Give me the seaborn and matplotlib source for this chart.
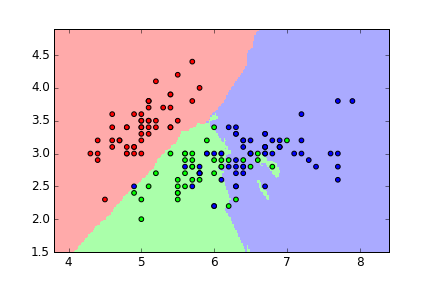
import numpy as np
import pandas as pd
import matplotlib
matplotlib.use("Agg")
import matplotlib.pyplot as plt
from matplotlib.colors import ListedColormap
import seaborn as sns

# Iris sepal length / sepal width, classes 0=setosa, 1=versicolor, 2=virginica
sepal_length = [
    5.1, 4.9, 4.7, 4.6, 5.0, 5.4, 4.6, 5.0, 4.4, 4.9, 5.4, 4.8, 4.8, 4.3, 5.8, 5.7, 5.4, 5.1, 5.7, 5.1,
    5.4, 5.1, 4.6, 5.1, 4.8, 5.0, 5.0, 5.2, 5.2, 4.7, 4.8, 5.4, 5.2, 5.5, 4.9, 5.0, 5.5, 4.9, 4.4, 5.1,
    5.0, 4.5, 4.4, 5.0, 5.1, 4.8, 5.1, 4.6, 5.3, 5.0,
    7.0, 6.4, 6.9, 5.5, 6.5, 5.7, 6.3, 4.9, 6.6, 5.2, 5.0, 5.9, 6.0, 6.1, 5.6, 6.7, 5.6, 5.8, 6.2, 5.6,
    5.9, 6.1, 6.3, 6.1, 6.4, 6.6, 6.8, 6.7, 6.0, 5.7, 5.5, 5.5, 5.8, 6.0, 5.4, 6.0, 6.7, 6.3, 5.6, 5.5,
    5.5, 6.1, 5.8, 5.0, 5.6, 5.7, 5.7, 6.2, 5.1, 5.7,
    6.3, 5.8, 7.1, 6.3, 6.5, 7.6, 4.9, 7.3, 6.7, 7.2, 6.5, 6.4, 6.8, 5.7, 5.8, 6.4, 6.5, 7.7, 7.7, 6.0,
    6.9, 5.6, 7.7, 6.3, 6.7, 7.2, 6.2, 6.1, 6.4, 7.2, 7.4, 7.9, 6.4, 6.3, 6.1, 7.7, 6.3, 6.4, 6.0, 6.9,
    6.7, 6.9, 5.8, 6.8, 6.7, 6.7, 6.3, 6.5, 6.2, 5.9,
]
sepal_width = [
    3.5, 3.0, 3.2, 3.1, 3.6, 3.9, 3.4, 3.4, 2.9, 3.1, 3.7, 3.4, 3.0, 3.0, 4.0, 4.4, 3.9, 3.5, 3.8, 3.8,
    3.4, 3.7, 3.6, 3.3, 3.4, 3.0, 3.4, 3.5, 3.4, 3.2, 3.1, 3.4, 4.1, 4.2, 3.1, 3.2, 3.5, 3.6, 3.0, 3.4,
    3.5, 2.3, 3.2, 3.5, 3.8, 3.0, 3.8, 3.2, 3.7, 3.3,
    3.2, 3.2, 3.1, 2.3, 2.8, 2.8, 3.3, 2.4, 2.9, 2.7, 2.0, 3.0, 2.2, 2.9, 2.9, 3.1, 3.0, 2.7, 2.2, 2.5,
    3.2, 2.8, 2.5, 2.8, 2.9, 3.0, 2.8, 3.0, 2.9, 2.6, 2.4, 2.4, 2.7, 2.7, 3.0, 3.4, 3.1, 2.3, 3.0, 2.5,
    2.6, 3.0, 2.6, 2.3, 2.7, 3.0, 2.9, 2.9, 2.5, 2.8,
    3.3, 2.7, 3.0, 2.9, 3.0, 3.0, 2.5, 2.9, 2.5, 3.6, 3.2, 2.7, 3.0, 2.5, 2.8, 3.2, 3.0, 3.8, 2.6, 2.2,
    3.2, 2.8, 2.8, 2.7, 3.3, 3.2, 2.8, 3.0, 2.8, 3.0, 2.8, 3.8, 2.8, 2.8, 2.6, 3.0, 3.4, 3.1, 3.0, 3.1,
    3.1, 3.1, 2.7, 3.2, 3.3, 3.0, 2.5, 3.0, 3.4, 3.0,
]
species = [0] * 50 + [1] * 50 + [2] * 50

n_neighbors = 15
light_colors = ['#FFAAAA', '#AAFFAA', '#AAAAFF']
bold_colors = ['#FF0000', '#00FF00', '#0000FF']

X = np.column_stack([sepal_length, sepal_width])
y = np.array(species)

h = 0.02
x_min, x_max = X[:, 0].min() - 0.5, X[:, 0].max() + 0.5
y_min, y_max = X[:, 1].min() - 0.5, X[:, 1].max() + 0.5
xx, yy = np.meshgrid(np.arange(x_min, x_max, h), np.arange(y_min, y_max, h))
grid = np.column_stack([xx.ravel(), yy.ravel()])

# k-nearest-neighbours (uniform weights) classification of the mesh
d2 = ((grid[:, None, :] - X[None, :, :]) ** 2).sum(axis=2)
idx = np.argsort(d2, axis=1, kind='stable')[:, :n_neighbors]
votes = np.zeros((grid.shape[0], 3), dtype=int)
for c in range(3):
    votes[:, c] = (y[idx] == c).sum(axis=1)
Z = votes.argmax(axis=1).reshape(xx.shape)

plt.style.use('classic')
fig = plt.figure(figsize=(6, 4), dpi=72)
ax = fig.add_axes([0.125, 0.125, 0.775, 0.775])
ax.pcolormesh(xx, yy, Z, cmap=ListedColormap(light_colors), shading='nearest',
              vmin=0, vmax=2)

df = pd.DataFrame({'sepal_length': sepal_length, 'sepal_width': sepal_width,
                   'species': species})
sns.scatterplot(data=df, x='sepal_length', y='sepal_width', hue='species',
                palette={0: bold_colors[0], 1: bold_colors[1], 2: bold_colors[2]},
                edgecolor='k', linewidth=1, s=22, legend=False, ax=ax, zorder=3)
ax.set_xlim(xx.min(), xx.max())
ax.set_ylim(yy.min(), yy.max())
ax.set_xlabel('')
ax.set_ylabel('')
ax.set_xticks([4, 5, 6, 7, 8])
ax.set_yticks([1.5, 2.0, 2.5, 3.0, 3.5, 4.0, 4.5])
fig.savefig('out.png', dpi=72)
